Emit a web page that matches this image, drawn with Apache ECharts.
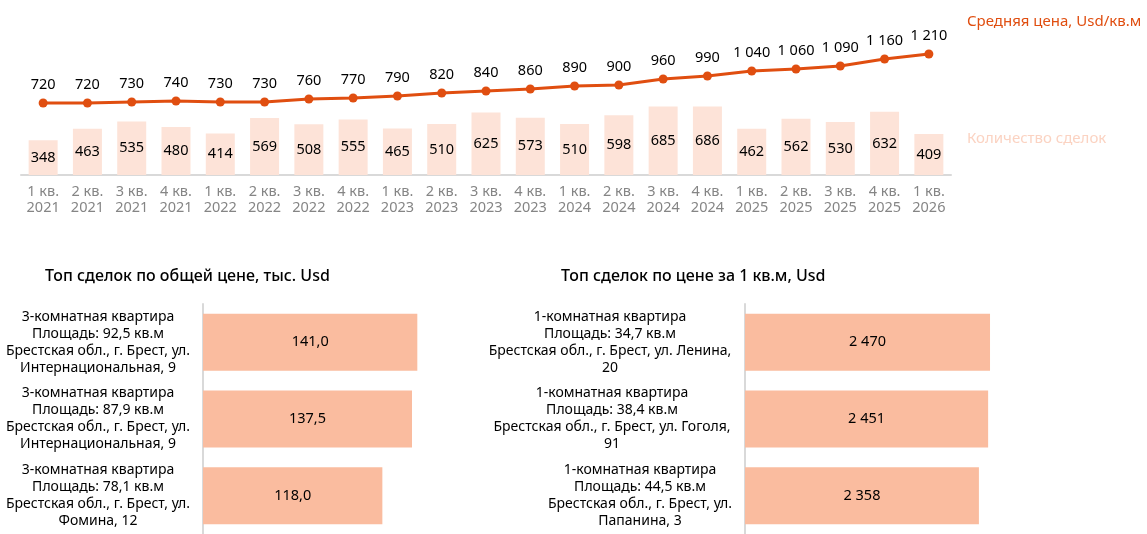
<!DOCTYPE html>
<html>
<head>
<meta charset="utf-8">
<script src="https://cdn.jsdelivr.net/npm/echarts@6/dist/echarts.min.js"></script>
<style>
html,body{margin:0;padding:0;background:#fff;}
#c{width:1147px;height:534px;}
</style>
</head>
<body>
<div id="c"></div>
<script>
var quarters = ['1 кв.\n2021','2 кв.\n2021','3 кв.\n2021','4 кв.\n2021','1 кв.\n2022','2 кв.\n2022','3 кв.\n2022','4 кв.\n2022','1 кв.\n2023','2 кв.\n2023','3 кв.\n2023','4 кв.\n2023','1 кв.\n2024','2 кв.\n2024','3 кв.\n2024','4 кв.\n2024','1 кв.\n2025','2 кв.\n2025','3 кв.\n2025','4 кв.\n2025','1 кв.\n2026'];
var avgPrice = [720,720,730,740,730,730,760,770,790,820,840,860,890,900,960,990,1040,1060,1090,1160,1210];
var dealCount = [348,463,535,480,414,569,508,555,465,510,625,573,510,598,685,686,462,562,530,632,409];

var topTotalLabels = [
  '3-комнатная квартира\nПлощадь: 92,5 кв.м\nБрестская обл., г. Брест, ул.\nИнтернациональная, 9',
  '3-комнатная квартира\nПлощадь: 87,9 кв.м\nБрестская обл., г. Брест, ул.\nИнтернациональная, 9',
  '3-комнатная квартира\nПлощадь: 78,1 кв.м\nБрестская обл., г. Брест, ул.\nФомина, 12'
];
var topTotalValues = [141.0, 137.5, 118.0];

var topSqmLabels = [
  '1-комнатная квартира\nПлощадь: 34,7 кв.м\nБрестская обл., г. Брест, ул. Ленина,\n20',
  '1-комнатная квартира\nПлощадь: 38,4 кв.м\nБрестская обл., г. Брест, ул. Гоголя,\n91',
  '1-комнатная квартира\nПлощадь: 44,5 кв.м\nБрестская обл., г. Брест, ул.\nПапанина, 3'
];
var topSqmValues = [2470, 2451, 2358];

var FONT = 'Noto Sans';
function fmtSpace(v){ var s = String(Math.round(v)); return s.length > 3 ? s.slice(0, s.length-3) + ' ' + s.slice(-3) : s; }
function fmtComma(v){ return v.toFixed(1).replace('.', ','); }

function richFor(widths){
  var r = {};
  widths.forEach(function(w, i){
    r['w'+i] = {width: w, align: 'center', lineHeight: 17, fontSize: 14, color: '#000', fontFamily: FONT};
  });
  return r;
}
function richFormatter(labels){
  return function(value, index){
    return value.split('\n').map(function(l){ return '{w'+index+'|'+l+'}'; }).join('\n');
  };
}

var chart = echarts.init(document.getElementById('c'));
chart.setOption({
  animation: false,
  textStyle: {fontFamily: FONT},
  title: [
    {text: 'Топ сделок по общей цене, тыс. Usd', left: 40, top: 263, textStyle: {fontSize: 16, fontWeight: 500, color: '#000', fontFamily: FONT}},
    {text: 'Топ сделок по цене за 1 кв.м, Usd', left: 556, top: 263, textStyle: {fontSize: 16, fontWeight: 500, color: '#000', fontFamily: FONT}}
  ],
  legend: [
    {data: [{name: 'Средняя цена, Usd/кв.м'}], left: 957, top: 9, icon: 'none', itemWidth: 0, itemGap: 0,
     textStyle: {color: '#E04E10', fontSize: 15, fontFamily: FONT}},
    {data: [{name: 'Количество сделок'}], left: 957, top: 126, icon: 'none', itemWidth: 0, itemGap: 0,
     textStyle: {color: '#FBD3C2', fontSize: 15, fontFamily: FONT}}
  ],
  grid: [
    {left: 21, width: 930, top: 25, height: 150},
    {left: 203, width: 228, top: 304, height: 232},
    {left: 745, width: 248, top: 304, height: 232}
  ],
  xAxis: [
    {type: 'category', gridIndex: 0, data: quarters,
     axisLine: {lineStyle: {color: '#D9D9D9', width: 2}}, axisTick: {show: false},
     axisLabel: {color: '#858585', fontSize: 14.5, lineHeight: 16, margin: 9, interval: 0, fontFamily: FONT}},
    {type: 'value', gridIndex: 1, min: 0, max: 150, show: false},
    {type: 'value', gridIndex: 2, min: 0, max: 2500, show: false}
  ],
  yAxis: [
    {type: 'value', gridIndex: 0, min: 0, max: 1500, show: false},
    {type: 'category', gridIndex: 1, data: topTotalLabels, inverse: true,
     axisLine: {lineStyle: {color: '#D9D9D9', width: 2}}, axisTick: {show: false},
     axisLabel: {margin: 11, formatter: richFormatter(topTotalLabels), rich: richFor([188, 188, 188])}},
    {type: 'category', gridIndex: 2, data: topSqmLabels, inverse: true,
     axisLine: {lineStyle: {color: '#D9D9D9', width: 2}}, axisTick: {show: false},
     axisLabel: {margin: 11, formatter: richFormatter(topSqmLabels), rich: richFor([248, 244, 188])}}
  ],
  series: [
    {name: 'Количество сделок', type: 'bar', xAxisIndex: 0, yAxisIndex: 0, data: dealCount,
     barWidth: 29, itemStyle: {color: '#FDE3D8'},
     label: {show: true, position: 'inside', color: '#000', fontSize: 14.5, fontFamily: FONT}},
    {name: 'Средняя цена, Usd/кв.м', type: 'line', xAxisIndex: 0, yAxisIndex: 0, data: avgPrice,
     symbol: 'circle', symbolSize: 9, z: 5,
     lineStyle: {color: '#E04E10', width: 3}, itemStyle: {color: '#E04E10'},
     label: {show: true, position: 'top', distance: 6, color: '#000', fontSize: 14.5, fontFamily: FONT,
             formatter: function(p){ return fmtSpace(p.value); }}},
    {type: 'bar', xAxisIndex: 1, yAxisIndex: 1, data: topTotalValues, barWidth: 57,
     itemStyle: {color: '#FABC9F'},
     label: {show: true, position: 'inside', color: '#000', fontSize: 14.5, fontFamily: FONT,
             formatter: function(p){ return fmtComma(p.value); }}},
    {type: 'bar', xAxisIndex: 2, yAxisIndex: 2, data: topSqmValues, barWidth: 57,
     itemStyle: {color: '#FABC9F'},
     label: {show: true, position: 'inside', color: '#000', fontSize: 14.5, fontFamily: FONT,
             formatter: function(p){ return fmtSpace(p.value); }}}
  ]
});
</script>
</body>
</html>
